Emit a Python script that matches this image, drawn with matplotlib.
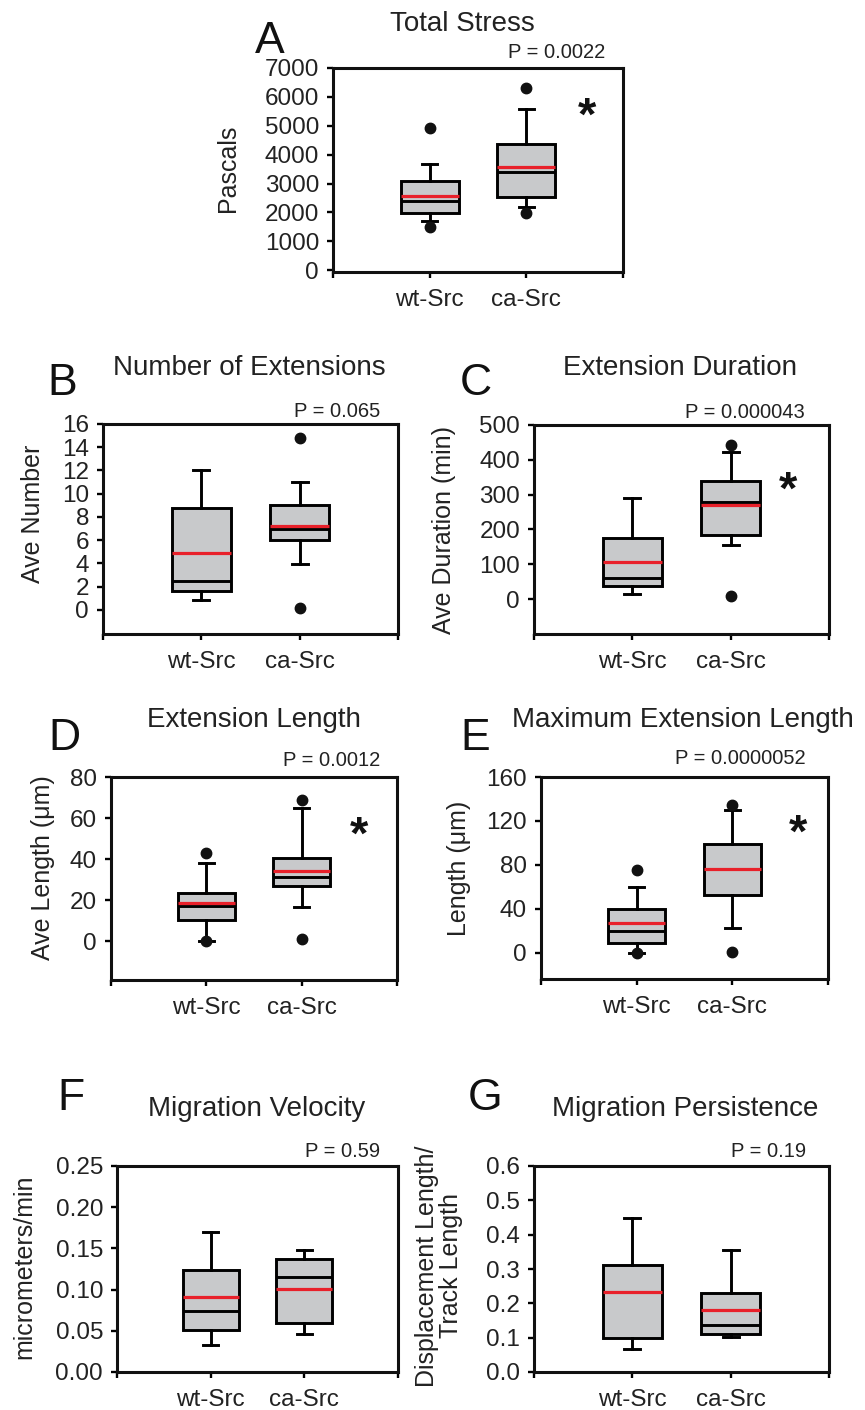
import matplotlib.pyplot as plt

plt.rcParams['font.family'] = ['Liberation Sans', 'DejaVu Sans']

# ---- data (each pair is [wt-Src, ca-Src]) ----
groups = ['wt-Src', 'ca-Src']
letters = ['A', 'B', 'C', 'D', 'E', 'F', 'G']
titles = ['Total Stress', 'Number of Extensions', 'Extension Duration',
          'Extension Length', 'Maximum Extension Length',
          'Migration Velocity', 'Migration Persistence']
ylabels = ['Pascals', 'Ave Number', 'Ave Duration (min)', 'Ave Length (\u03bcm)',
           'Length (\u03bcm)', 'micrometers/min', 'Displacement Length/\nTrack Length']
pvalues = ['P = 0.0022', 'P = 0.065', 'P = 0.000043', 'P = 0.0012',
           'P = 0.0000052', 'P = 0.59', 'P = 0.19']
significant = [True, False, True, True, True, False, False]

whis_lo = [[1710, 2200], [0.86, 3.97], [15, 156], [0, 16.8], [0, 22.7], [0.033, 0.046], [0.066, 0.103]]
q1 = [[1970, 2545], [1.67, 5.98], [38, 185], [10.3, 26.9], [9.1, 52.4], [0.051, 0.059], [0.100, 0.112]]
medians = [[2400, 3390], [2.53, 6.95], [60, 280], [17.1, 31.1], [19.7, 75.8], [0.074, 0.115], [0.232, 0.138]]
means = [[2580, 3565], [4.89, 7.24], [106, 271], [18.7, 34.2], [26.7, 75.8], [0.0915, 0.1008], [0.232, 0.181]]
q3 = [[3100, 4360], [8.76, 9.0], [177, 339], [23.3, 40.4], [40, 99.1], [0.124, 0.137], [0.312, 0.231]]
whis_hi = [[3680, 5580], [12.07, 10.98], [290, 422], [37.9, 65.1], [60, 129.7], [0.170, 0.148], [0.450, 0.354]]
outliers = [[[1500, 4920], [1990, 6310]],
            [[], [0.14, 14.8]],
            [[], [8, 443]],
            [[0, 42.8], [0.8, 68.6]],
            [[0, 75], [0.6, 134.8]],
            [[], []],
            [[], []]]

yticks = [list(range(0, 7001, 1000)), list(range(0, 17, 2)), list(range(0, 501, 100)),
          list(range(0, 81, 20)), list(range(0, 161, 40)),
          [0.0, 0.05, 0.10, 0.15, 0.20, 0.25], [0.0, 0.1, 0.2, 0.3, 0.4, 0.5, 0.6]]
ytick_fmt = ['{:.0f}'] * 5 + ['{:.2f}', '{:.1f}']

# ---- layout (pixels in an 865 x 1410 canvas) ----
W, H = 865, 1410
ax_px = [(333, 68, 623, 272), (103, 424, 398, 634), (534, 425, 829, 634),
         (111, 777, 397, 980), (541, 777, 828, 979),
         (117, 1166, 398, 1372), (534, 1166, 829, 1372)]
ylims = [(-60, 7000), (-2.07, 16), (-100, 500), (-19, 80), (-24, 160), (0, 0.25), (0, 0.6)]
title_pos = [(462, 31), (249, 375), (680, 375), (254, 727), (683, 727), (257, 1116), (685, 1116)]
letter_pos = [(255, 53), (47, 395), (460, 395), (48, 750), (460, 750), (57, 1110), (468, 1110)]
p_pos = [(605, 58), (380, 417), (805, 418), (380, 766), (806, 764), (380, 1157), (806, 1157)]
star_pos = {0: (587, 130), 2: (788, 504), 3: (359, 849), 4: (798, 847)}
ylabel_pos = [(-0.362, 0.51), (-0.237, 0.571), (-0.305, 0.5), (-0.238, 0.552),
              (-0.286, 0.55), (-0.331, 0.51), (-0.322, 0.515)]


def fx(px):
    return px / W


def fy(py):
    return 1 - py / H


fig = plt.figure(figsize=(W / 100, H / 100), dpi=100)

lw = 2.1
for i in range(7):
    l, t, r, b = ax_px[i]
    ax = fig.add_axes([fx(l), fy(b), (r - l) / W, (b - t) / H])

    stats = []
    for g in range(2):
        stats.append(dict(med=medians[i][g], q1=q1[i][g], q3=q3[i][g],
                          whislo=whis_lo[i][g], whishi=whis_hi[i][g],
                          mean=means[i][g], fliers=outliers[i][g], label=groups[g]))

    ax.bxp(stats, positions=[1, 2], widths=0.6, capwidths=0.16, patch_artist=True,
           showmeans=True, meanline=True, manage_ticks=False,
           boxprops=dict(facecolor='#c8c9cb', edgecolor='black', linewidth=lw),
           medianprops=dict(color='black', linewidth=lw),
           meanprops=dict(color='#e8202a', linewidth=2.3, linestyle='-'),
           whiskerprops=dict(color='black', linewidth=lw),
           capprops=dict(color='black', linewidth=lw),
           flierprops=dict(marker='o', markerfacecolor='#111111', markeredgecolor='#111111',
                           markersize=7.5, zorder=5))

    ax.set_xlim(0, 3)
    ax.set_ylim(*ylims[i])
    ax.set_xticks([0, 1, 2, 3])
    ax.set_xticklabels(['', groups[0], groups[1], ''])
    ax.set_yticks(yticks[i])
    ax.set_yticklabels([ytick_fmt[i].format(v) for v in yticks[i]])
    ax.tick_params(axis='both', direction='out', length=4, width=1.7, labelsize=17.5,
                   color='black', labelcolor='#222222')
    ax.tick_params(axis='x', pad=8)
    ax.tick_params(axis='y', pad=6)
    for s in ax.spines.values():
        s.set_linewidth(2.2)
        s.set_color('#111111')

    ax.set_ylabel(ylabels[i], fontsize=18, color='#222222', ha='center', va='center',
                  multialignment='center', linespacing=1.0)
    ax.yaxis.set_label_coords(*ylabel_pos[i])

    fig.text(fx(title_pos[i][0]), fy(title_pos[i][1]), titles[i], fontsize=20,
             ha='center', va='baseline', color='#222222')
    fig.text(fx(letter_pos[i][0]), fy(letter_pos[i][1]), letters[i], fontsize=32,
             ha='left', va='baseline', color='#111111')
    fig.text(fx(p_pos[i][0]), fy(p_pos[i][1]), pvalues[i], fontsize=14.5,
             ha='right', va='baseline', color='#222222')
    if significant[i]:
        sx, sy = star_pos[i]
        fig.text(fx(sx), fy(sy), '*', fontsize=34, fontweight='bold',
                 ha='center', va='baseline', color='#111111')

fig.savefig('out.png', dpi=100, facecolor='white')
